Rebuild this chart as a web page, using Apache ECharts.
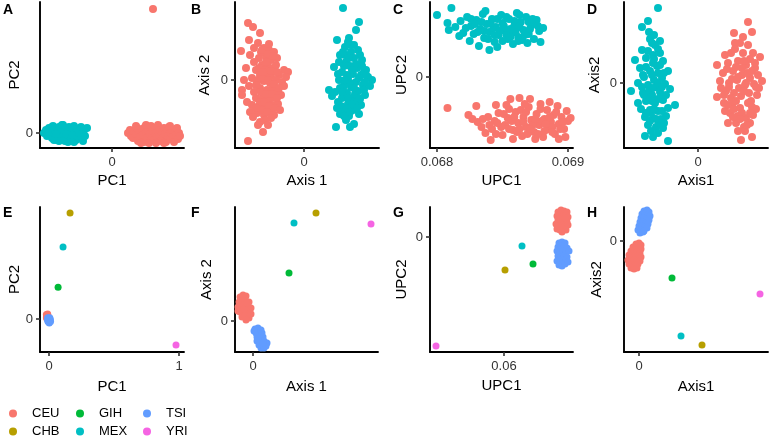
<!DOCTYPE html>
<html><head><meta charset="utf-8">
<script src="https://cdn.jsdelivr.net/npm/echarts@6/dist/echarts.min.js"></script>
<style>html,body{margin:0;padding:0;background:#fff}#c{width:769px;height:440px}</style>
</head><body><div id="c"></div>
<script>
// ---------- labels / categories ----------
const populations = ['CEU','CHB','GIH','MEX','TSI','YRI'];
const popColors = ['#F8766D','#B79F00','#00BA38','#00BFC4','#619CFF','#F564E3'];
const groupColors = ['#F8766D','#00BFC4'];
const panelLetters = ['A','B','C','D','E','F','G','H'];
const xTitles = ['PC1','Axis 1','UPC1','Axis1','PC1','Axis 1','UPC1','Axis1'];
const yTitles = ['PC2','Axis 2','UPC2','Axis2','PC2','Axis 2','UPC2','Axis2'];
const xTicks = [[0],[0],[0.068,0.069],[0],[0,1],[0],[0.06],[0]];
const yTicks = [[0],[0],[0],[0],[0],[0],[0],[0]];

// ---------- top row: two groups ----------
const aRed = [[16,0],[18,3],[19,-3],[21,-5],[22,2],[24,-1],[25,5],[26,-8],[27,1],[28,-4],[30,4],[31,-2],[32,-9],[33,6],[34,0],[35,-5],[36,3],[37,-10],[38,-1],[39,7],[40,-3],[41,2],[42,-7],[43,5],[44,0],[45,-4],[46,8],[47,-2],[48,3],[49,-8],[50,1],[51,-5],[52,5],[53,-1],[54,-9],[55,2],[56,-3],[57,6],[58,-6],[59,0],[60,3],[61,-4],[62,-9],[63,2],[64,-2],[65,5],[66,-6],[67,0],[68,-3],[29,-10],[44,-10],[52,-10],[34,8],[58,7],[24,7],[41,124]];
const aCyan = [[-68,0],[-66,3],[-65,-3],[-63,5],[-62,-1],[-61,2],[-60,-5],[-59,7],[-58,0],[-57,-3],[-56,4],[-55,-7],[-54,1],[-53,6],[-52,-2],[-51,3],[-50,-5],[-49,8],[-48,0],[-47,-8],[-46,4],[-45,-3],[-44,2],[-43,6],[-42,-6],[-41,0],[-40,3],[-39,-4],[-38,7],[-37,-1],[-36,-7],[-35,4],[-34,1],[-33,-5],[-32,5],[-31,-2],[-30,2],[-29,-8],[-28,3],[-27,-3],[-25,5],[-58,-7],[-50,8],[-44,-9],[-38,-9],[-60,6],[-53,-8],[-47,5],[-41,-7],[-35,-3],[-64,1],[-56,-1],[-46,-1],[-40,-2],[-33,0],[-31,6]];
const bRed = [[-56,57],[-51,53],[-44,47],[-55,40],[-46,37],[-63,29],[-54,25],[-40,32],[-35,30],[-30,28],[-38,24],[-45,22],[-50,18],[-33,20],[-27,22],[-42,15],[-36,14],[-48,10],[-30,12],[-20,10],[-16,8],[-58,12],[-44,5],[-38,6],[-33,4],[-25,5],[-52,2],[-60,0],[-47,-2],[-40,-1],[-34,-3],[-28,0],[-22,-2],[-18,3],[-55,-6],[-62,-10],[-50,-12],[-44,-8],[-37,-10],[-31,-8],[-26,-12],[-20,-6],[-48,-18],[-41,-17],[-35,-20],[-29,-18],[-23,-15],[-57,-22],[-52,-25],[-45,-26],[-38,-27],[-32,-25],[-54,-32],[-47,-33],[-40,-35],[-34,-30],[-51,-37],[-39,-40],[-44,-42],[-36,-45],[-41,-52],[-56,-61],[-30,-35],[-62,-15],[-26,-24],[-46,-45],[-38,18],[-43,28],[-28,15],[-50,32],
  [-42,30],[-36,26],[-31,24],[-45,12],[-39,10],[-33,9],[-27,8],[-46,0],[-41,2],[-36,0],[-30,-4],[-25,-8],[-43,-12],[-38,-14],[-32,-14],[-27,-18],[-44,-22],[-40,-22],[-35,-26],[-29,-28],[-42,-30],[-37,-32],[-48,-28],[-33,-38],[-41,8],[-35,36],[-48,-5],[-24,-30]];
const bCyan = [[39,72],[55,58],[52,50],[45,42],[33,40],[41,33],[54,30],[47,28],[36,25],[50,22],[58,20],[42,18],[30,13],[46,14],[53,12],[62,10],[38,8],[49,6],[57,5],[44,2],[68,0],[64,3],[35,0],[52,-2],[40,-5],[47,-7],[59,-5],[25,-10],[31,-12],[43,-13],[54,-11],[38,-18],[48,-18],[61,-15],[34,-22],[44,-24],[52,-22],[40,-30],[49,-30],[36,-34],[45,-36],[55,-34],[32,-47],[50,-44],[46,-47],[42,-40],[57,-25],[28,-16],[66,-6],[60,8],[39,-8],[47,35],[35,18],[43,5],[51,-14],[37,-26],[56,-19],[46,-3],[41,25],
  [44,38],[50,35],[39,28],[56,25],[45,22],[52,16],[40,14],[48,10],[58,14],[34,6],[41,0],[55,2],[61,-2],[36,-8],[50,-8],[44,-18],[55,-18],[38,-12],[48,-24],[42,-28],[53,-28],[46,-32],[40,-36],[60,-10],[62,5],[33,-28]];
const cRed = [[0.06808,-31],[0.06824,-38],[0.06830,-29],[0.06831,-45],[0.06834,-50],[0.06837,-56],[0.06841,-63],[0.06844,-44],[0.06847,-36],[0.06850,-58],[0.06852,-48],[0.06854,-41],[0.06856,-22],[0.06858,-53],[0.06860,-35],[0.06862,-46],[0.06863,-21],[0.06865,-59],[0.06866,-40],[0.06868,-50],[0.06870,-30],[0.06871,-22],[0.06872,-43],[0.06874,-55],[0.06876,-37],[0.06878,-48],[0.06879,-27],[0.06881,-60],[0.06882,-42],[0.06884,-33],[0.06885,-52],[0.06887,-45],[0.06889,-38],[0.06890,-57],[0.06892,-29],[0.06893,-47],[0.06895,-40],[0.06897,-52],[0.06899,-34],[0.06900,-44],[0.06902,-41],[0.06898,-60],[0.06893,-62],[0.06886,-25],[0.06875,-62],[0.06858,-62],[0.06845,-28],[0.06839,-40],[0.06857,-44],[0.06869,-57],[0.06880,-44],[0.06864,-33],[0.06849,-50],[0.06873,-48],[0.06888,-50],[0.06855,-32],[0.06861,-55],[0.06840,-48],[0.06827,-42],
  [0.06835,-42],[0.06842,-52],[0.06846,-46],[0.06851,-37],[0.06855,-52],[0.06859,-40],[0.06863,-52],[0.06866,-45],[0.06868,-35],[0.06871,-52],[0.06875,-42],[0.06877,-57],[0.06879,-32],[0.06883,-47],[0.06886,-40],[0.06888,-55],[0.06891,-35],[0.06894,-52],[0.06896,-45],[0.06853,-28],[0.06867,-27],[0.06845,-57],[0.06882,-54]];
const cCyan = [[0.06800,62],[0.06811,69],[0.06808,54],[0.06809,47],[0.06814,50],[0.06818,56],[0.06820,44],[0.06823,60],[0.06826,51],[0.06828,43],[0.06830,57],[0.06833,48],[0.06835,63],[0.06836,39],[0.06838,53],[0.06840,45],[0.06842,58],[0.06844,35],[0.06845,50],[0.06847,42],[0.06849,62],[0.06850,54],[0.06852,47],[0.06854,38],[0.06855,58],[0.06857,44],[0.06859,51],[0.06861,64],[0.06862,40],[0.06864,55],[0.06866,47],[0.06868,60],[0.06870,43],[0.06872,52],[0.06874,38],[0.06876,57],[0.06878,46],[0.06881,49],[0.06879,35],[0.06869,34],[0.06840,27],[0.06825,36],[0.06832,31],[0.06858,33],[0.06846,30],[0.06863,62],[0.06834,55],[0.06853,42],[0.06843,49],[0.06826,58],[0.06860,45],[0.06817,41],[0.06870,55],[0.06850,36],[0.06837,66],[0.06865,37],
  [0.06822,49],[0.06829,53],[0.06836,46],[0.06841,54],[0.06846,58],[0.06848,46],[0.06851,51],[0.06856,48],[0.06859,56],[0.06863,50],[0.06867,42],[0.06871,48],[0.06873,58],[0.06862,36],[0.06853,60],[0.06844,42],[0.06839,38],[0.06831,45],[0.06856,40],[0.06877,51]];
const dRed = [[50,61],[54,51],[36,50],[45,46],[37,40],[55,30],[27,28],[62,26],[19,18],[30,20],[40,22],[48,18],[57,15],[25,10],[35,12],[44,8],[52,5],[60,8],[22,2],[31,0],[39,3],[47,-2],[56,-1],[64,2],[19,-14],[28,-8],[36,-10],[43,-13],[51,-10],[59,-12],[26,-20],[34,-22],[42,-25],[50,-20],[58,-26],[32,-30],[40,-33],[48,-35],[55,-32],[38,-40],[46,-44],[52,-40],[54,-54],[43,-57],[30,-40],[45,30],[41,-5],[33,-15],[49,10],[61,-5],[37,34],[23,-5],[47,-48],[44,15],[27,-28],[53,-18],
  [42,40],[50,38],[33,30],[52,24],[38,16],[46,22],[29,14],[54,12],[40,6],[48,0],[34,4],[58,-4],[26,-12],[38,-18],[46,-8],[54,-24],[30,-22],[44,-30],[36,-26],[52,-30],[42,-36],[49,-42],[35,-34],[57,20],[40,-48],[31,-4]];
const dCyan = [[-40,75],[-50,62],[-56,56],[-49,51],[-48,44],[-56,33],[-63,23],[-43,38],[-38,30],[-52,25],[-45,20],[-35,22],[-58,15],[-48,12],[-40,10],[-30,12],[-54,6],[-44,3],[-36,5],[-60,0],[-50,-2],[-42,-4],[-33,-1],[-67,-8],[-55,-10],[-46,-12],[-38,-9],[-28,-6],[-52,-18],[-43,-20],[-35,-17],[-23,-22],[-57,-26],[-48,-27],[-40,-28],[-30,-25],[-53,-34],[-45,-35],[-37,-36],[-50,-42],[-42,-44],[-35,-45],[-53,-53],[-45,-54],[-30,-58],[-47,-48],[-39,-40],[-60,-20],[-32,-33],[-45,28],[-41,17],[-49,-8],[-37,-14],[-55,8],[-47,-30],[-44,48],
  [-46,40],[-40,34],[-50,32],[-44,24],[-38,18],[-52,16],[-46,8],[-40,0],[-34,10],[-56,-4],[-45,-5],[-36,-4],[-50,-14],[-40,-16],[-32,-12],[-44,-26],[-52,-30],[-36,-28],[-42,-36],[-48,-38],[-40,-50],[-34,-40],[-46,-18],[-54,-12],[-38,42]];

// ---------- bottom row: six populations ----------
const eCEU = [[-0.02,0.035],[-0.015,0.03],[-0.01,0.038],[-0.018,0.022],[-0.008,0.025],[-0.012,0.015],[-0.02,0.01],[-0.005,0.012],[-0.014,0.028],[-0.016,0.005]];
const eCHB = [[0.162,0.815]];
const eGIH = [[0.07,0.245]];
const eMEX = [[0.108,0.554]];
const eTSI = [[-0.01,0.01],[0.0,0.005],[0.008,0.0],[-0.005,-0.01],[0.005,-0.015],[-0.008,-0.02],[0.01,-0.008],[0.0,-0.025],[-0.012,-0.005],[0.006,0.01],[-0.003,0.0],[0.012,-0.02],[0.002,-0.03]];
const eYRI = [[0.977,-0.2]];

const fCEU = [[-13,24],[-10,26],[-7,25],[-14,19],[-11,20],[-8,21],[-4,19],[-15,14],[-12,15],[-9,16],[-5,14],[-2,13],[-13,9],[-10,10],[-6,9],[-3,8],[-11,4],[-8,5],[-4,3],[-7,1],[-15,10],[-9,12],[-6,18],[-2,7]];
const fCHB = [[63,108]];
const fGIH = [[36,48]];
const fMEX = [[41,98]];
const fTSI = [[2,-8],[5,-7],[8,-9],[3,-12],[6,-13],[9,-12],[4,-16],[7,-17],[10,-16],[4,-20],[7,-21],[11,-20],[6,-24],[9,-25],[12,-23],[14,-22],[8,-27],[11,-27],[1,-10],[13,-25],[5,-18],[10,-22]];
const fYRI = [[118,97]];

const gCEU = [[0.0654,25],[0.0657,27],[0.0660,26],[0.0663,25],[0.0653,21],[0.0656,22],[0.0659,21],[0.0662,22],[0.0664,20],[0.0654,17],[0.0657,16],[0.0660,17],[0.0663,15],[0.0652,13],[0.0655,12],[0.0658,13],[0.0661,11],[0.0664,12],[0.0653,8],[0.0656,7],[0.0659,8],[0.0662,7],[0.0658,5],[0.0655,18],[0.0661,19]];
const gCHB = [[0.0601,-33]];
const gGIH = [[0.0629,-27]];
const gMEX = [[0.0618,-9]];
const gTSI = [[0.0655,-6],[0.0658,-5],[0.0661,-6],[0.0654,-10],[0.0657,-10],[0.0660,-9],[0.0663,-11],[0.0653,-14],[0.0656,-15],[0.0659,-14],[0.0662,-15],[0.0665,-14],[0.0654,-19],[0.0657,-20],[0.0660,-19],[0.0663,-20],[0.0653,-24],[0.0656,-25],[0.0659,-24],[0.0662,-23],[0.0655,-28],[0.0658,-29],[0.0661,-27],[0.0664,-25]];
const gYRI = [[0.0532,-109]];

const hCEU = [[-3,-3],[0,-2],[2,-4],[-6,-6],[-3,-7],[0,-7],[2,-8],[-8,-10],[-5,-11],[-2,-11],[1,-12],[-10,-14],[-7,-15],[-4,-15],[-1,-15],[2,-16],[-11,-19],[-8,-19],[-5,-19],[-2,-20],[1,-20],[-10,-23],[-7,-24],[-4,-24],[-1,-23],[-8,-27],[-5,-28],[-2,-27]];
const hCHB = [[63,-104]];
const hGIH = [[33,-37]];
const hMEX = [[42,-95]];
const hTSI = [[5,30],[8,31],[10,29],[3,27],[6,27],[9,26],[11,25],[2,23],[5,23],[8,22],[10,21],[1,19],[4,19],[7,18],[9,17],[0,15],[3,15],[6,14],[8,13],[-1,11],[2,11],[5,10],[1,8],[4,9]];
const hYRI = [[121,-53]];

// ---------- layout ----------
const layout = [
  {left:40, top:2, width:144, height:146},
  {left:235, top:2, width:144, height:146},
  {left:430, top:2, width:143, height:146},
  {left:624, top:2, width:144, height:146},
  {left:40, top:207, width:144, height:145},
  {left:235, top:207, width:143, height:145},
  {left:430, top:207, width:143, height:145},
  {left:624, top:207, width:144, height:145}
];
const xRange = [[-72,72],[-69,75],[0.0679466,0.0690382],[-74,70],[-0.0692,1.0385],[-18,125],[0.0526,0.0669],[-15,129]];
const yRange = [[-15,131],[-68,78],[-71,75],[-65,81],[-0.2538,0.8615],[-31,114],[-115,30],[-111,34]];
const yNameGap = [18,23,21,22,18,21,21,20];
const xNameGap = [25,25,25,25,27,27,26,27];
const letterPos = [[3,3],[191,3],[393,3],[587,3],[3,206],[191,206],[393,206],[587,206]];

const FONT = '"Liberation Sans", Arial, sans-serif';
const grids=[], xAxes=[], yAxes=[], series=[], graphics=[];
for (let i=0;i<8;i++){
  grids.push(Object.assign({containLabel:false}, layout[i]));
  const axisCommon = {
    type:'value', gridIndex:i, nameLocation:'middle',
    nameTextStyle:{fontSize:15, color:'#000', fontFamily:FONT},
    axisLine:{show:true, onZero:false, lineStyle:{color:'#000', width:1.9}},
    axisTick:{show:true, length:4, lineStyle:{color:'#333', width:1.6}},
    axisLabel:{fontSize:13, color:'#333', fontFamily:FONT},
    splitLine:{show:false}
  };
  xAxes.push(Object.assign({}, axisCommon, {
    name:xTitles[i], nameGap:xNameGap[i], min:xRange[i][0], max:xRange[i][1],
    axisTick:Object.assign({}, axisCommon.axisTick, {customValues:xTicks[i]}),
    axisLabel:Object.assign({}, axisCommon.axisLabel, {customValues:xTicks[i], margin:8})
  }));
  yAxes.push(Object.assign({}, axisCommon, {
    name:yTitles[i], nameGap:yNameGap[i], min:yRange[i][0], max:yRange[i][1],
    axisTick:Object.assign({}, axisCommon.axisTick, {customValues:yTicks[i]}),
    axisLabel:Object.assign({}, axisCommon.axisLabel, {customValues:yTicks[i], margin:7})
  }));
  graphics.push({type:'text', left:letterPos[i][0], top:letterPos[i][1],
    style:{text:panelLetters[i], font:'bold 14px '+FONT, fill:'#000'}});
}
const topPairs = [[aRed,aCyan],[bRed,bCyan],[cRed,cCyan],[dRed,dCyan]];
topPairs.forEach((pair,i)=>{
  pair.forEach((d,k)=>{
    series.push({type:'scatter', name:'group'+(k+1), xAxisIndex:i, yAxisIndex:i, data:d,
      symbolSize:8, clip:false, itemStyle:{color:groupColors[k], opacity:1}, silent:true});
  });
});
const bottom = [
  [eCEU,eCHB,eGIH,eMEX,eTSI,eYRI],
  [fCEU,fCHB,fGIH,fMEX,fTSI,fYRI],
  [gCEU,gCHB,gGIH,gMEX,gTSI,gYRI],
  [hCEU,hCHB,hGIH,hMEX,hTSI,hYRI]
];
bottom.forEach((sets,j)=>{
  sets.forEach((d,k)=>{
    series.push({type:'scatter', name:populations[k], xAxisIndex:4+j, yAxisIndex:4+j, data:d,
      symbolSize:7, clip:false, itemStyle:{color:popColors[k], opacity:1}, silent:true});
  });
});
// legend: column-major, 2 rows x 3 columns
const legendCols = [9,76,143];
const legendRows = [407,425];
const legends = populations.map((p,k)=>({
  data:[p], left:legendCols[Math.floor(k/2)], top:legendRows[k%2], padding:0,
  icon:'circle', itemWidth:8, itemHeight:8, selectedMode:false,
  textStyle:{fontSize:13, color:'#000', fontFamily:FONT, padding:[0,0,0,10]}
}));

const chart = echarts.init(document.getElementById('c'), null, {renderer:'canvas'});
chart.setOption({
  animation:false, backgroundColor:'#fff',
  color: popColors,
  grid:grids, xAxis:xAxes, yAxis:yAxes, series:series, legend:legends, graphic:graphics
});
</script></body></html>
